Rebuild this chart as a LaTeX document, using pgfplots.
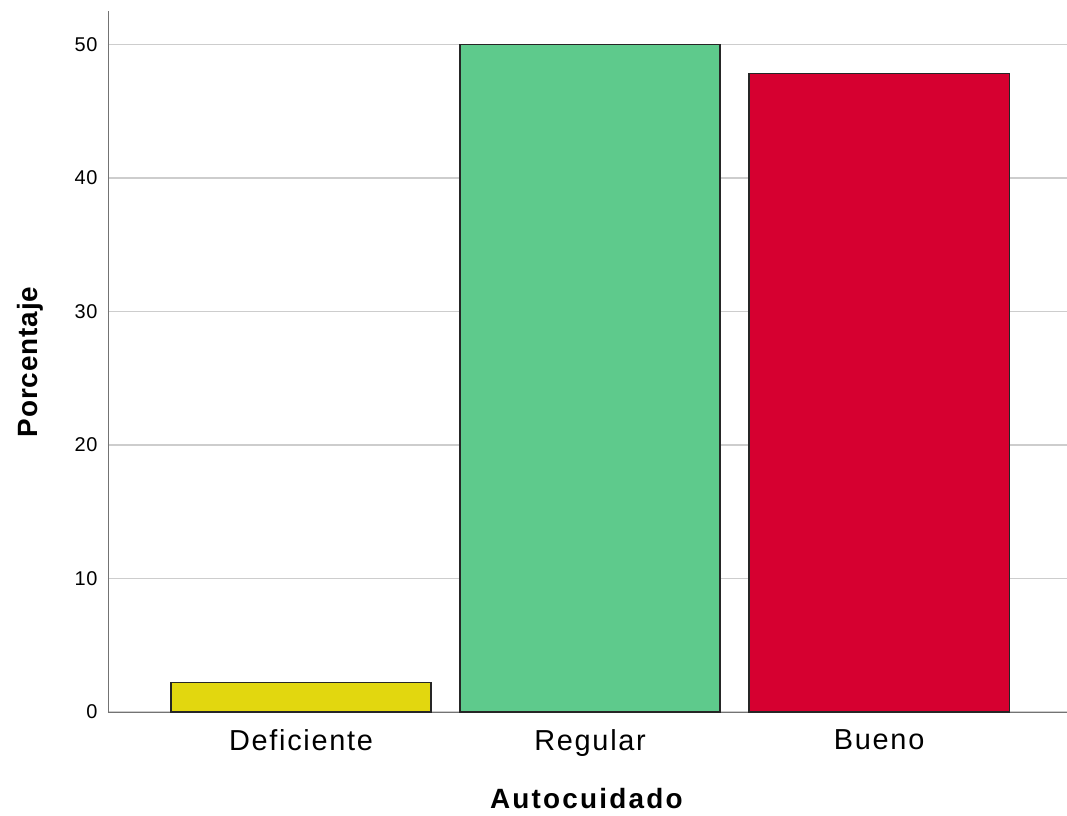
\documentclass[border=0pt]{standalone}
\usepackage{fontspec}
\setmainfont{Liberation Sans}
\usepackage{pgfplots}
\pgfplotsset{compat=1.18}
\definecolor{cdef}{RGB}{226,215,15}
\definecolor{creg}{RGB}{94,202,140}
\definecolor{cbue}{RGB}{214,0,48}
\definecolor{cgrid}{RGB}{205,205,205}
\begin{document}
\begin{tikzpicture}
\begin{axis}[
    scale only axis,
    width=959bp, height=701bp,
    xmin=-0.668, xmax=2.65,
    ymin=0, ymax=52.5,
    axis lines*=left,
    axis line style={draw=black!55, line width=1pt},
    ytick={0,10,20,30,40,50},
    xtick={0,1,2},
    xticklabels={Deficiente,Regular,Bueno},
    major tick length=0pt,
    ymajorgrids,
    grid style={cgrid, line width=1.3pt},
    /pgf/number format/assume math mode=true,
    yticklabel style={font=\fontsize{20}{22}\selectfont\addfontfeatures{LetterSpace=4}, xshift=-7bp},
    xticklabel style={font=\fontsize{29}{31}\selectfont\addfontfeatures{LetterSpace=6}, yshift=-14bp},
    ylabel={\textbf{Porcentaje}},
    xlabel={\textbf{Autocuidado}},
    ylabel style={font=\fontsize{28}{30}\selectfont\addfontfeatures{LetterSpace=3}, yshift=24bp},
    xlabel style={font=\fontsize{28}{30}\selectfont\addfontfeatures{LetterSpace=8}, yshift=-25bp},
    clip=false,
]
\addplot[ybar, bar width=0.9, fill=cdef, draw=black!85, line width=1.4pt] coordinates {(0,2.2)};
\addplot[ybar, bar width=0.9, fill=creg, draw=black!85, line width=1.4pt] coordinates {(1,50)};
\addplot[ybar, bar width=0.9, fill=cbue, draw=black!85, line width=1.4pt] coordinates {(2,47.8)};
\end{axis}
\pgfresetboundingbox
\path ([shift={(-108bp,-104bp)}]current axis.south west) rectangle ([shift={(0bp,11bp)}]current axis.north east);
\end{tikzpicture}
\end{document}
